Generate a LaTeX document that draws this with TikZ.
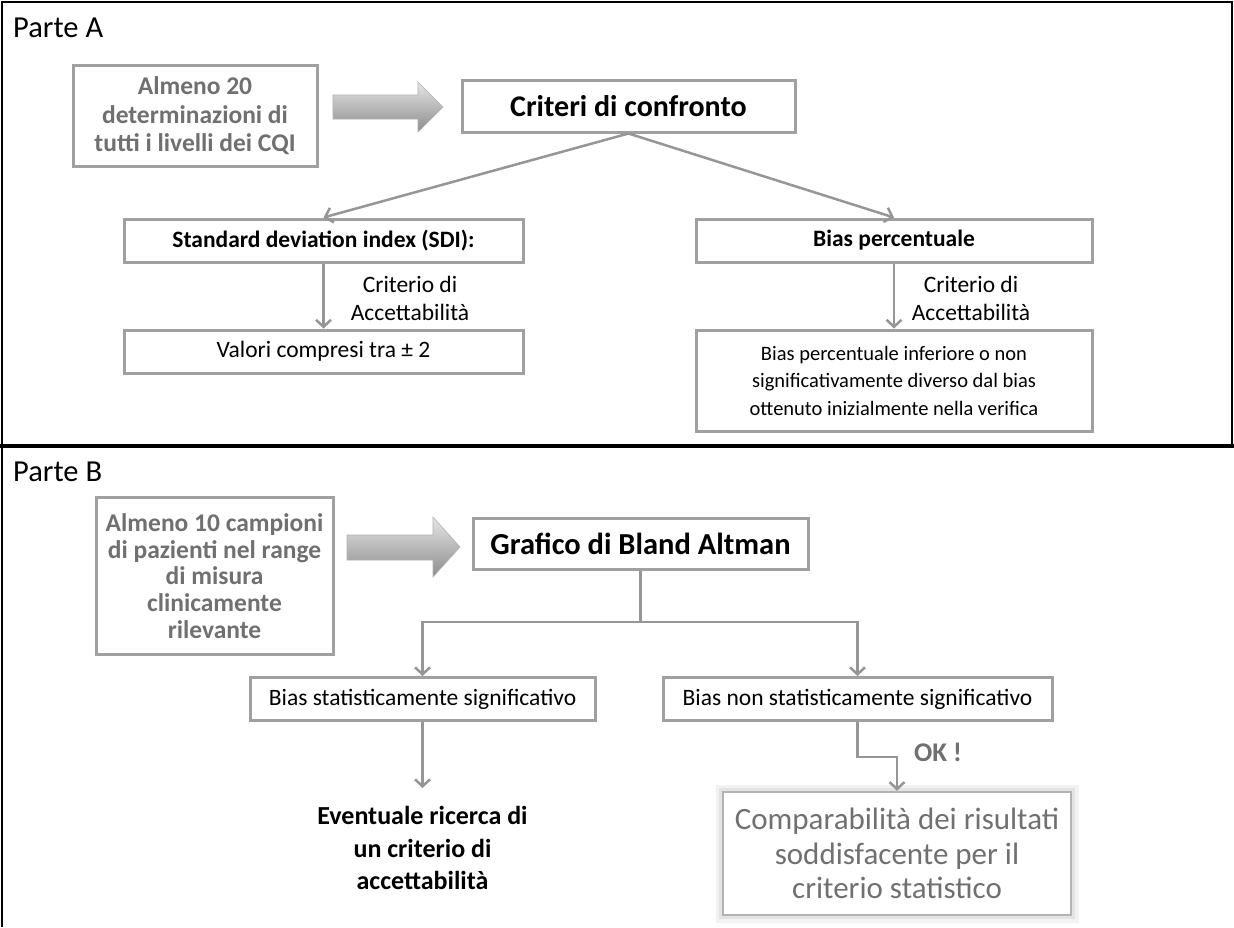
\documentclass[tikz,border=0pt]{standalone}
\usepackage{fontspec}
\setmainfont{Carlito}
\usetikzlibrary{arrows.meta}

\definecolor{boxgray}{RGB}{160,160,160}
\definecolor{linegray}{RGB}{150,150,150}
\definecolor{textgray}{RGB}{112,112,112}
\newcommand{\setfs}[2]{\fontsize{#1}{#2}\selectfont}

\begin{document}
\begin{tikzpicture}[x=1pt,y=-1pt,
    box/.style={draw=boxgray, line width=3pt, fill=white, inner sep=0pt, align=center},
    link/.style={draw=linegray, line width=2.5pt, -{Straight Barb[length=7pt,width=15pt]}},
    stem/.style={draw=linegray, line width=2.5pt},
    fat/.style={top color=black!10, bottom color=black!45, draw=black!30, line width=0.6pt},
    label/.style={inner sep=0pt, align=center, font=\setfs{23.5}{28}}]
        \useasboundingbox (0,0) rectangle (1234,927);
        \fill[white] (0,0) rectangle (1234,927);

        \draw[line width=2pt] (2,927) -- (2,2) -- (1232,2) -- (1232,446);
        \draw[line width=3.5pt] (0,446) -- (1234,446);

        \node[anchor=base west, inner sep=0pt, font=\setfs{30.5}{34}] (parteA) at (13,37) {Parte A};
        \node[anchor=base west, inner sep=0pt, font=\setfs{30.5}{34}] (parteB) at (13,481) {Parte B};

        \node[box, minimum width=244pt, minimum height=101pt, text=textgray, font=\bfseries\setfs{25.5}{28.5}] (cqi) at (195,116) {Almeno 20\\determinazioni di\\tutti i livelli dei CQI};
        \shadedraw[fat] (333,95) -- (418,95) -- (418,82) -- (443,107) -- (418,132) -- (418,119) -- (333,119) -- cycle;
        \node[box, minimum width=333pt, minimum height=52pt, font=\bfseries\setfs{30}{34}] (crit) at (628.5,106) {Criteri di confronto};

        \node[box, minimum width=399pt, minimum height=43pt, font=\bfseries\setfs{23.5}{28}] (sdi) at (323.5,240.5) {Standard deviation index (SDI):};
        \node[box, minimum width=399pt, minimum height=43pt, font=\setfs{23.5}{28}] (val) at (323.5,351.5) {Valori compresi tra ± 2};
        \node[box, minimum width=396pt, minimum height=43pt, font=\bfseries\setfs{23.5}{28}] (bperc) at (894,240.5) {Bias percentuale};
        \node[box, minimum width=396pt, minimum height=101pt, font=\setfs{20.5}{27.5}] (binf) at (894,380.5) {Bias percentuale inferiore o non\\significativamente diverso dal bias\\ottenuto inizialmente nella verifica};

        \node[label] (accA) at (410,298) {Criterio di\\Accettabilità};
        \node[label] (accB) at (971,298) {Criterio di\\Accettabilità};

        \draw[link] (crit.south) -- (sdi.north);
        \draw[link] (crit.south) -- (bperc.north);
        \draw[link] (sdi) -- (val);
        \draw[link] (bperc) -- (binf);

        \node[box, minimum width=237pt, minimum height=157pt, text=textgray, font=\bfseries\setfs{25.5}{26.8}] (pz) at (214.5,576) {Almeno 10 campioni\\di pazienti nel range\\di misura\\clinicamente\\rilevante};
        \shadedraw[fat] (347,535) -- (433,535) -- (433,517) -- (460,547) -- (433,577) -- (433,560) -- (347,560) -- cycle;
        \node[box, minimum width=335pt, minimum height=51pt, font=\bfseries\setfs{30.5}{34}] (graf) at (640.5,543.5) {Grafico di Bland Altman};

        \node[box, minimum width=345pt, minimum height=43pt, font=\setfs{23.5}{28}] (bstat) at (422.5,699) {Bias statisticamente significativo};
        \node[box, minimum width=389pt, minimum height=43pt, font=\setfs{23.5}{28}] (bnon) at (857.5,699) {Bias non statisticamente significativo};

        \coordinate (fork) at (640.5,622);
        \draw[stem] (graf.south) -- (fork);
        \draw[link] (fork) -| (bstat.north);
        \draw[link] (fork) -| (bnon.north);

        \node[inner sep=0pt, align=center, font=\bfseries\setfs{26}{32.5}] (evt) at (422.5,848) {Eventuale ricerca di\\un criterio di\\accettabilità};
        \coordinate (evtin) at (422.5,788);
        \draw[link] (bstat.south) -- (evtin);

        \node[box, draw=black!30, line width=2.5pt, preaction={draw=black!5, line width=15pt}, preaction={draw=black!11, line width=8pt}, minimum width=348pt, minimum height=123pt, text=textgray, font=\setfs{31}{34.5}] (comp) at (897,853.5) {Comparabilità dei risultati\\soddisfacente per il\\criterio statistico};
        \coordinate (bend) at (857.5,757);
        \draw[link] (bnon.south) -- (bend) -| (comp.north);
        \node[inner sep=0pt, text=textgray, font=\bfseries\setfs{27}{30}] (ok) at (938,752) {OK !};
    \end{tikzpicture}
\end{document}
